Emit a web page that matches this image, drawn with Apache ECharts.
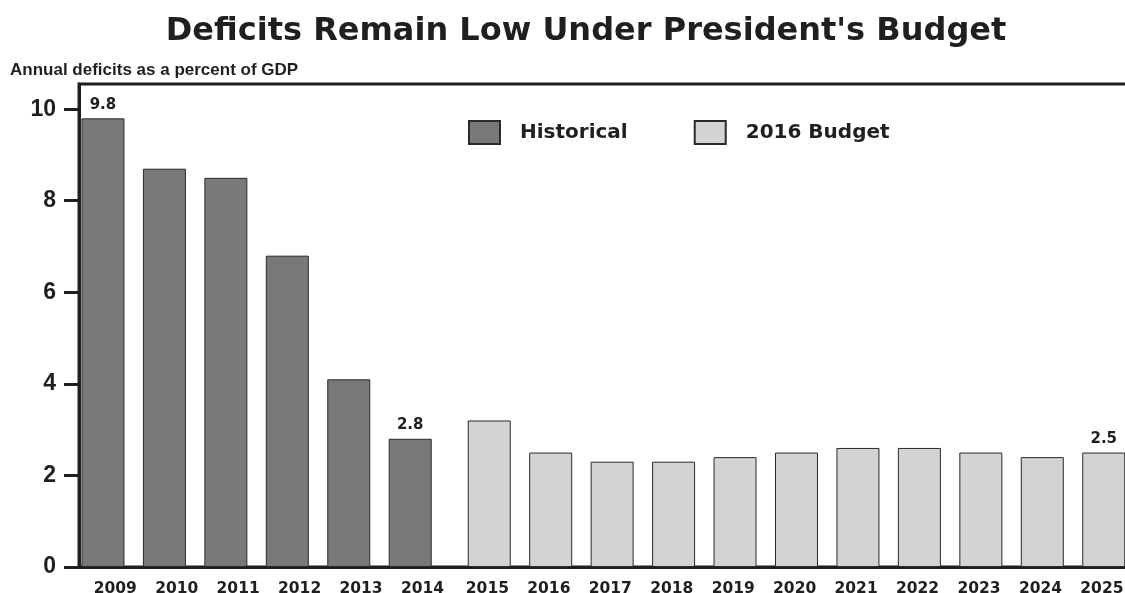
<!DOCTYPE html>
<html>
<head>
<meta charset="utf-8">
<script src="https://cdn.jsdelivr.net/npm/echarts@6/dist/echarts.min.js"></script>
<style>
html,body{margin:0;padding:0;background:#fff;}
#chart{width:1125px;height:593px;}
</style>
</head>
<body>
<div id="chart"></div>
<script>
const histYears = [2009, 2010, 2011, 2012, 2013, 2014];
const histValues = [9.8, 8.7, 8.5, 6.8, 4.1, 2.8];
const budgetYears = [2015, 2016, 2017, 2018, 2019, 2020, 2021, 2022, 2023, 2024, 2025];
const budgetValues = [3.2, 2.5, 2.3, 2.3, 2.4, 2.5, 2.6, 2.6, 2.5, 2.4, 2.5];
const labelledYears = [2009, 2014, 2025];
const yTicks = [0, 2, 4, 6, 8, 10];
const budgetGap = 0.286;      // extra spacing between historical and budget bar groups
const histLabelShift = 0.2;   // year labels under historical bars sit a little to the right
const budgetLabelShift = -0.03;

const FONT = '"Liberation Sans", Arial, Helvetica, sans-serif';
const WIDE = '"DejaVu Sans", "Liberation Sans", sans-serif';
const INK = '#1f1f1f';

function pts(years, values, offset) {
  return years.map((y, i) => {
    const item = { value: [y + offset, values[i]] };
    if (labelledYears.includes(y)) item.label = { show: true };
    return item;
  });
}
const histData = pts(histYears, histValues, 0);
const budgetData = pts(budgetYears, budgetValues, budgetGap);

const labelPositions = [];
const posToYear = {};
histYears.forEach(y => { const p = y + histLabelShift; labelPositions.push(p); posToYear[p.toFixed(3)] = y; });
budgetYears.forEach(y => { const p = y + budgetGap + budgetLabelShift; labelPositions.push(p); posToYear[p.toFixed(3)] = y; });

const xMin = 2008.61, xMax = 2025.8, pxPerYear = 61.45;

const chart = echarts.init(document.getElementById('chart'));
chart.setOption({
  animation: false,
  backgroundColor: '#fff',
  title: [
    { text: "Deficits Remain Low Under President's Budget", left: 581, textAlign: 'center', top: 11,
      textStyle: { fontFamily: WIDE, fontWeight: 'bold', fontSize: 32, color: INK } },
    { text: 'Annual deficits as a percent of GDP', left: 5, top: 57,
      textStyle: { fontFamily: FONT, fontWeight: 'bold', fontSize: 17, color: INK } }
  ],
  legend: {
    left: 463, top: 115, itemWidth: 31, itemHeight: 23, itemGap: 66,
    icon: 'rect',
    textStyle: { fontFamily: WIDE, fontWeight: 'bold', fontSize: 20, color: INK, padding: [0, 0, 0, 15] },
    data: ['Historical', '2016 Budget']
  },
  grid: {
    left: 79, top: 84, bottom: 26, width: (xMax - xMin) * pxPerYear,
    outerBoundsMode: 'none', containLabel: false,
    show: true, borderColor: INK, borderWidth: 3, backgroundColor: 'transparent'
  },
  xAxis: {
    type: 'value', min: xMin, max: xMax,
    axisLine: { show: true, lineStyle: { color: INK, width: 3 } },
    axisTick: { show: false },
    splitLine: { show: false },
    axisLabel: {
      customValues: labelPositions,
      formatter: v => String(posToYear[v.toFixed(3)] ?? ''),
      fontFamily: WIDE, fontWeight: 'bold', fontSize: 15.5, color: INK, margin: 14
    }
  },
  yAxis: {
    type: 'value', min: 0, max: 10.55,
    axisLine: { show: true, lineStyle: { color: INK, width: 3 } },
    axisTick: { show: true, customValues: yTicks, length: 15, lineStyle: { color: INK, width: 3 } },
    splitLine: { show: false },
    axisLabel: {
      customValues: yTicks,
      fontFamily: FONT, fontWeight: 'bold', fontSize: 23, color: INK, margin: 23
    }
  },
  series: [
    {
      name: 'Historical', type: 'bar', data: histData, barWidth: 43, barGap: '-100%',
      itemStyle: { color: '#79797b', borderColor: '#2a2a2a', borderWidth: 1 },
      label: { show: false, position: 'top', distance: 6, formatter: p => p.value[1].toFixed(1),
        fontFamily: WIDE, fontWeight: 'bold', fontSize: 15, color: INK }
    },
    {
      name: '2016 Budget', type: 'bar', data: budgetData, barWidth: 43, barGap: '-100%',
      itemStyle: { color: '#d3d3d3', borderColor: '#2a2a2a', borderWidth: 1 },
      label: { show: false, position: 'top', distance: 6, formatter: p => p.value[1].toFixed(1),
        fontFamily: WIDE, fontWeight: 'bold', fontSize: 15, color: INK }
    }
  ]
});
</script>
</body>
</html>
